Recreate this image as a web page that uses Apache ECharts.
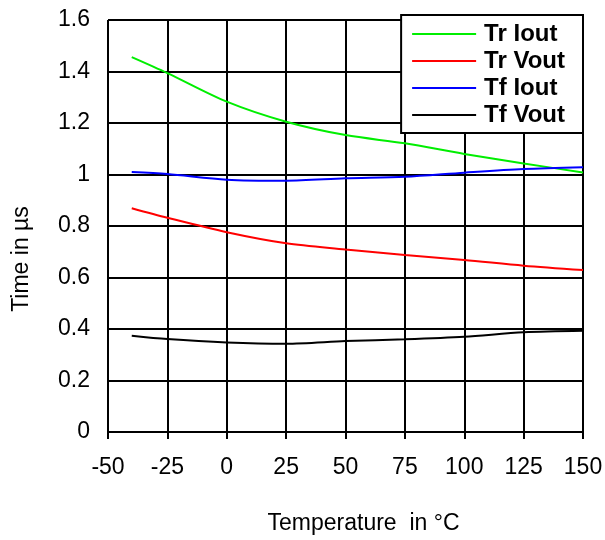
<!DOCTYPE html>
<html>
<head>
<meta charset="utf-8">
<script src="https://cdn.jsdelivr.net/npm/echarts@6/dist/echarts.min.js"></script>
<style>
  html, body { margin: 0; padding: 0; background: #fff; }
  #main { width: 605px; height: 540px; }
</style>
</head>
<body>
<div id="main"></div>
<script>
// temperature points (°C)
var temps = [-40, -25, 0, 25, 50, 75, 100, 125, 150];
// times in µs
var trIout = [1.456, 1.394, 1.283, 1.205, 1.153, 1.121, 1.080, 1.043, 1.008];
var trVout = [0.869, 0.832, 0.776, 0.733, 0.709, 0.687, 0.668, 0.646, 0.629];
var tfIout = [1.010, 1.002, 0.980, 0.976, 0.985, 0.991, 1.007, 1.021, 1.028];
var tfVout = [0.374, 0.361, 0.348, 0.343, 0.353, 0.360, 0.370, 0.387, 0.393];

var names = ['Tr Iout', 'Tr Vout', 'Tf Iout', 'Tf Vout'];
var colors = ['#00ee00', '#ff0000', '#0000ff', '#000000'];
var values = [trIout, trVout, tfIout, tfVout];

var font = 'Liberation Sans, Arial, sans-serif';

function pairs(ys) {
  return temps.map(function (t, i) { return [t, ys[i]]; });
}

var series = names.map(function (n, k) {
  return {
    name: n,
    type: 'line',
    data: pairs(values[k]),
    smooth: 0.3,
    symbol: 'none',
    lineStyle: { color: colors[k], width: 2 },
    itemStyle: { color: colors[k] },
    z: 3
  };
});

var chart = echarts.init(document.getElementById('main'));
chart.setOption({
  animation: false,
  backgroundColor: '#fff',
  grid: { left: 108, right: 22, top: 20, bottom: 108, containLabel: false, outerBoundsMode: 'none' },
  legend: {
    orient: 'vertical',
    right: 22,
    top: 15,
    padding: [7, 18, 6, 11],
    itemWidth: 64,
    itemHeight: 23,
    itemGap: 3,
    backgroundColor: '#fff',
    borderColor: '#000',
    borderWidth: 2,
    icon: 'path://M0,10.5 L64,10.5 L64,12.5 L0,12.5 Z',
    textStyle: { fontFamily: font, fontWeight: 'bold', fontSize: 24, lineHeight: 23, color: '#000', padding: [0, 0, 0, 3] },
    data: names
  },
  xAxis: {
    type: 'value',
    min: -50,
    max: 150,
    interval: 25,
    name: 'Temperature  in °C',
    nameLocation: 'middle',
    nameGap: 80,
    nameTextStyle: { fontFamily: font, fontSize: 23, color: '#000', padding: [0, 0, 0, 36] },
    axisLine: { show: true, onZero: false, lineStyle: { color: '#000', width: 2 } },
    axisTick: { show: true, length: 7, lineStyle: { color: '#000', width: 2 } },
    axisLabel: { fontFamily: font, fontSize: 23, color: '#000', margin: 24 },
    splitLine: { show: true, lineStyle: { color: '#000', width: 2 } }
  },
  yAxis: {
    type: 'value',
    min: 0,
    max: 1.6,
    interval: 0.2,
    name: 'Time in µs',
    nameLocation: 'middle',
    nameGap: 75,
    nameTextStyle: { fontFamily: font, fontSize: 23, color: '#000', padding: [0, 66, 0, 0] },
    axisLine: { show: true, lineStyle: { color: '#000', width: 2 } },
    axisTick: { show: true, length: 6, lineStyle: { color: '#000', width: 2 } },
    axisLabel: {
      fontFamily: font, fontSize: 23, color: '#000', margin: 18,
      formatter: function (v) { return Math.round(v * 10) / 10 + ''; }
    },
    splitLine: { show: true, lineStyle: { color: '#000', width: 2 } }
  },
  series: series
});
</script>
</body>
</html>
